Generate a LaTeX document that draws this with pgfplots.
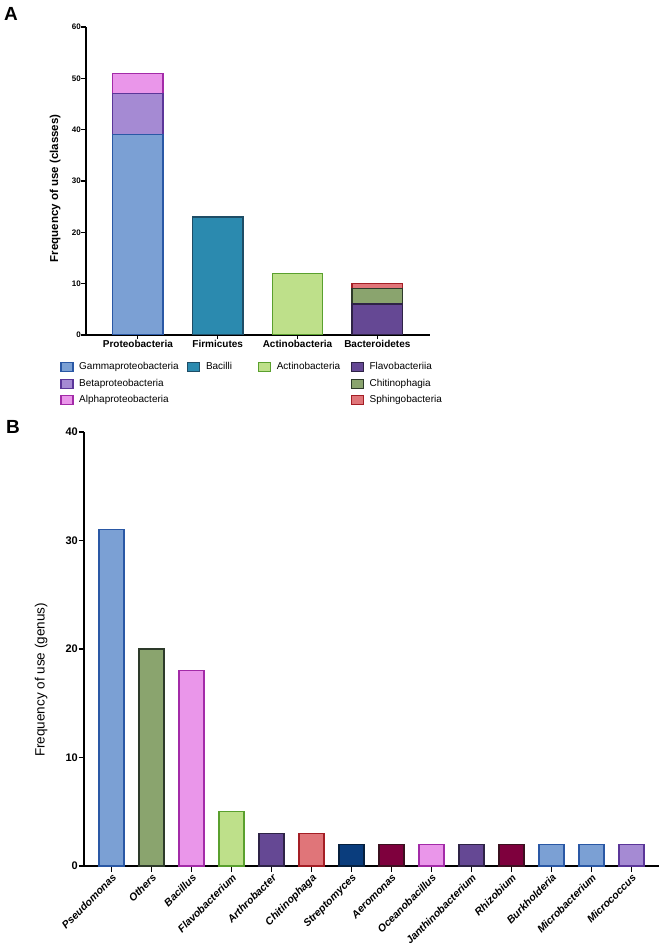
\documentclass[border=0pt]{standalone}
\usepackage{fontspec}
\setmainfont{Liberation Sans}
\usepackage{pgfplots}
\pgfplotsset{compat=1.18}

\definecolor{gamF}{HTML}{7BA0D4}\definecolor{gamE}{HTML}{2A58A5}
\definecolor{betF}{HTML}{A58AD3}\definecolor{betE}{HTML}{5B3699}
\definecolor{alpF}{HTML}{EA96EA}\definecolor{alpE}{HTML}{A32BA8}
\definecolor{bacF}{HTML}{2B8AAF}\definecolor{bacE}{HTML}{1E4D66}
\definecolor{actF}{HTML}{BEE08A}\definecolor{actE}{HTML}{5AA02E}
\definecolor{flaF}{HTML}{654894}\definecolor{flaE}{HTML}{2E2346}
\definecolor{chiF}{HTML}{8AA46E}\definecolor{chiE}{HTML}{2D3A2A}
\definecolor{sphF}{HTML}{E07579}\definecolor{sphE}{HTML}{A41E25}
\definecolor{strF}{HTML}{0A3D7D}\definecolor{strE}{HTML}{06203E}
\definecolor{aerF}{HTML}{7E003D}\definecolor{aerE}{HTML}{3B101F}

\pgfplotsset{
  gp/.style={
    scale only axis,
    axis x line*=bottom, axis y line*=left,
    axis line style={black, line width=1.6pt},
    major tick style={black, line width=1.2pt},
    tick align=outside,
    ybar, bar shift=0pt,
    enlargelimits=false,
    /pgf/number format/assume math mode=true,
    yticklabel style={inner sep=0.5pt},
  },
  bars/.style={forget plot, line width=1.4pt},
}

\begin{document}
\begin{tikzpicture}
\useasboundingbox (0,0) rectangle (661pt,946pt);

\node[anchor=north west, inner sep=0pt, font=\fontsize{19}{19}\selectfont\bfseries] at (4pt,939pt) {A};
\node[anchor=north west, inner sep=0pt, font=\fontsize{19}{19}\selectfont\bfseries] at (6pt,526pt) {B};

% ---- A: classes ----
\begin{axis}[gp,
  at={(86pt,611pt)}, anchor=south west,
  width=344pt, height=308pt,
  xmin=-0.65, xmax=3.66, ymin=0, ymax=60,
  ytick={0,10,...,60},
  xtick={0,1,2,3},
  xticklabels={Proteobacteria,Firmicutes,Actinobacteria,Bacteroidetes},
  major tick length=4.5pt,
  tick label style={font=\fontsize{8}{9}\selectfont\bfseries},
  xticklabel style={font=\fontsize{10}{12}\selectfont\bfseries, inner sep=1pt},
  bar width=50.5pt,
  ylabel={Frequency of use (classes)},
  ylabel style={at={(axis description cs:-0.09,0.476)}, anchor=center, font=\fontsize{11.5}{13}\selectfont\bfseries},
  legend image code/.code={\draw[#1, line width=1.2pt] (0pt,-4.5pt) rectangle (12pt,4.5pt); \path (18pt,0pt);},
  legend columns=4,
  legend cell align=left,
  legend style={at={(axis description cs:-0.0744,-0.0877)}, anchor=north west,
    draw=none, fill=none, inner sep=0pt, outer sep=0pt,
    column sep=0pt, row sep=6.3pt,
    nodes={inner sep=0pt, text height=7.2pt, text depth=2pt},
    font=\fontsize{10}{12}\selectfont},
]
% Proteobacteria, drawn as cumulative totals from the top segment down
\addplot[bars, fill=alpF, draw=alpE] coordinates {(0,51)};
\addplot[bars, fill=betF, draw=betE] coordinates {(0,47)};
\addplot[bars, fill=gamF, draw=gamE] coordinates {(0,39)};
\addplot[bars, fill=bacF, draw=bacE] coordinates {(1,23)};
\addplot[bars, fill=actF, draw=actE] coordinates {(2,12)};
% Bacteroidetes
\addplot[bars, fill=sphF, draw=sphE] coordinates {(3,10)};
\addplot[bars, fill=chiF, draw=chiE] coordinates {(3,9)};
\addplot[bars, fill=flaF, draw=flaE] coordinates {(3,6)};

\addlegendimage{fill=gamF, draw=gamE}\addlegendentry{\makebox[108pt][l]{Gammaproteobacteria}}
\addlegendimage{fill=bacF, draw=bacE}\addlegendentry{\makebox[52pt][l]{Bacilli}}
\addlegendimage{fill=actF, draw=actE}\addlegendentry{\makebox[74pt][l]{Actinobacteria}}
\addlegendimage{fill=flaF, draw=flaE}\addlegendentry{Flavobacteriia}
\addlegendimage{fill=betF, draw=betE}\addlegendentry{Betaproteobacteria}
\addlegendimage{empty legend}\addlegendentry{}
\addlegendimage{empty legend}\addlegendentry{}
\addlegendimage{fill=chiF, draw=chiE}\addlegendentry{Chitinophagia}
\addlegendimage{fill=alpF, draw=alpE}\addlegendentry{Alphaproteobacteria}
\addlegendimage{empty legend}\addlegendentry{}
\addlegendimage{empty legend}\addlegendentry{}
\addlegendimage{fill=sphF, draw=sphE}\addlegendentry{Sphingobacteria}
\end{axis}

% ---- B: genus ----
\begin{axis}[gp,
  at={(84pt,80pt)}, anchor=south west,
  width=575pt, height=434pt,
  xmin=-0.69, xmax=13.69, ymin=0, ymax=40,
  ytick={0,10,...,40},
  xtick={0,...,13},
  xticklabels={Pseudomonas,Others,Bacillus,Flavobacterium,Arthrobacter,Chitinophaga,Streptomyces,Aeromonas,Oceanobacillus,Janthinobacterium,Rhizobium,Burkholderia,Microbacterium,Micrococcus},
  axis line style={line width=1.9pt},
  major tick length=5.5pt,
  tick label style={font=\fontsize{11}{12}\selectfont\bfseries},
  xticklabel style={rotate=45, anchor=north east, inner sep=1pt, font=\fontsize{10.5}{12}\selectfont\bfseries\itshape},
  bar width=25pt,
  ylabel={Frequency of use (genus)},
  ylabel style={at={(axis description cs:-0.0747,0.4286)}, anchor=center, font=\fontsize{13.5}{15}\selectfont},
]
\addplot[bars, fill=gamF, draw=gamE] coordinates {(0,31)};
\addplot[bars, fill=chiF, draw=chiE] coordinates {(1,20)};
\addplot[bars, fill=alpF, draw=alpE] coordinates {(2,18)};
\addplot[bars, fill=actF, draw=actE] coordinates {(3,5)};
\addplot[bars, fill=flaF, draw=flaE] coordinates {(4,3)};
\addplot[bars, fill=sphF, draw=sphE] coordinates {(5,3)};
\addplot[bars, fill=strF, draw=strE] coordinates {(6,2)};
\addplot[bars, fill=aerF, draw=aerE] coordinates {(7,2)};
\addplot[bars, fill=alpF, draw=alpE] coordinates {(8,2)};
\addplot[bars, fill=flaF, draw=flaE] coordinates {(9,2)};
\addplot[bars, fill=aerF, draw=aerE] coordinates {(10,2)};
\addplot[bars, fill=gamF, draw=gamE] coordinates {(11,2)};
\addplot[bars, fill=gamF, draw=gamE] coordinates {(12,2)};
\addplot[bars, fill=betF, draw=betE] coordinates {(13,2)};
\end{axis}
\end{tikzpicture}
\end{document}
